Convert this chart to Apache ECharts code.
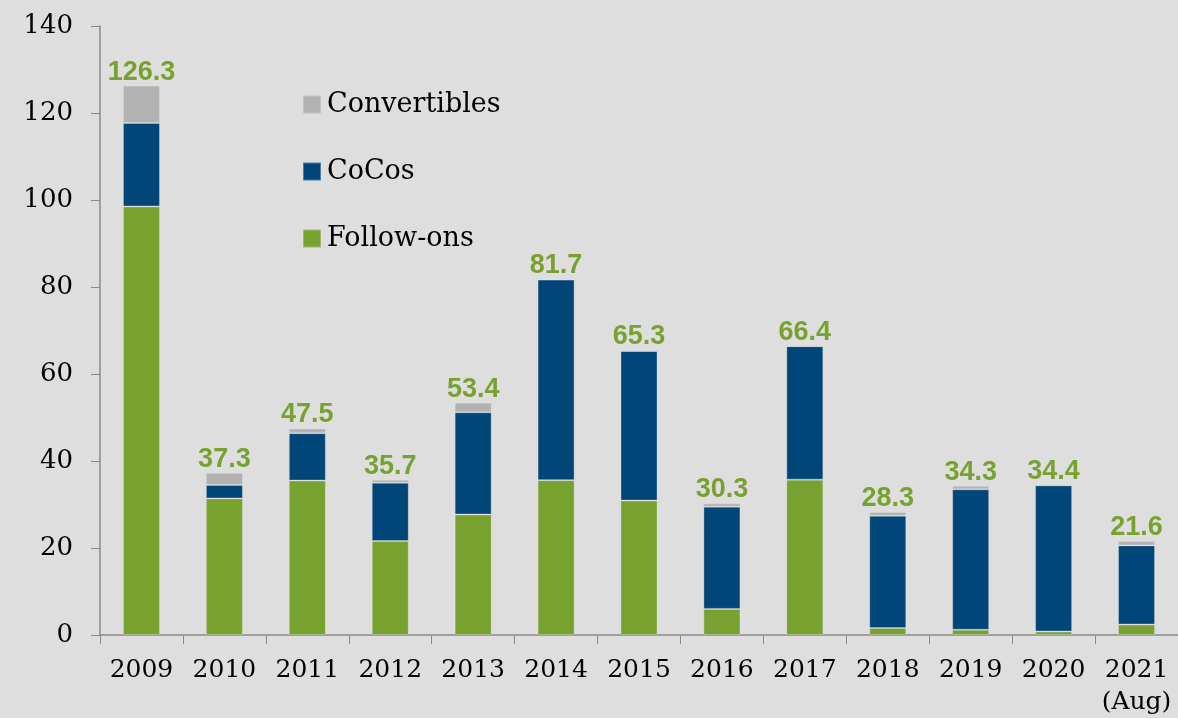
<!DOCTYPE html>
<html>
<head>
<meta charset="utf-8">
<script src="https://cdn.jsdelivr.net/npm/echarts@6/dist/echarts.min.js"></script>
<style>
  html, body { margin: 0; padding: 0; background: #dedede; }
  #chart { width: 1178px; height: 718px; }
</style>
</head>
<body>
<div id="chart"></div>
<script>
// Issuance volumes by year (stacked)
const years = ['2009', '2010', '2011', '2012', '2013', '2014', '2015', '2016', '2017', '2018', '2019', '2020', '2021\n(Aug)'];
const followOns    = [98.5, 31.4, 35.5, 21.6, 27.7, 35.6, 30.9, 6.0, 35.7, 1.6, 1.2, 0.8, 2.4];
const cocos        = [19.2, 3.1, 10.9, 13.4, 23.5, 46.1, 34.4, 23.5, 30.7, 25.8, 32.3, 33.6, 18.2];
const convertibles = [8.6, 2.8, 1.1, 0.7, 2.2, 0, 0, 0.8, 0, 0.9, 0.8, 0, 1.0];
const yTicks = [0, 20, 40, 60, 80, 100, 120, 140];

const totals = years.map((_, i) => followOns[i] + cocos[i] + convertibles[i]);

const serif = '"DejaVu Serif", "Liberation Serif", serif';
const edge = { borderColor: 'rgba(225,225,225,0.35)', borderWidth: 1 };

const chart = echarts.init(document.getElementById('chart'));
chart.setOption({
  backgroundColor: '#dedede',
  animation: false,
  grid: { left: 100, top: 26, width: 1085, height: 610 },
  legend: {
    orient: 'vertical',
    left: 297,
    top: 86,
    itemGap: 40,
    itemWidth: 18,
    itemHeight: 18,
    icon: 'rect',
    textStyle: { fontFamily: serif, fontSize: 27, color: '#000', padding: [0, 0, 0, 1] },
    data: ['Convertibles', 'CoCos', 'Follow-ons']
  },
  xAxis: {
    type: 'category',
    data: years,
    axisLine: { lineStyle: { color: '#8a8a8a', width: 1.5 } },
    axisTick: { show: true, length: 9, interval: 0, lineStyle: { color: '#8a8a8a' } },
    axisLabel: { fontFamily: serif, fontSize: 25, color: '#000', margin: 19, lineHeight: 32, interval: 0 }
  },
  yAxis: {
    type: 'value',
    min: yTicks[0],
    max: yTicks[yTicks.length - 1],
    interval: yTicks[1] - yTicks[0],
    splitLine: { show: false },
    axisLine: { show: true, lineStyle: { color: '#8a8a8a', width: 1.5 } },
    axisTick: { show: true, length: 9, lineStyle: { color: '#8a8a8a' } },
    axisLabel: { fontFamily: serif, fontSize: 26, color: '#000', margin: 27 }
  },
  series: [
    {
      name: 'Follow-ons', type: 'bar', stack: 'total', barWidth: 37,
      itemStyle: Object.assign({ color: '#78a22f' }, edge),
      data: followOns
    },
    {
      name: 'CoCos', type: 'bar', stack: 'total', barWidth: 37,
      itemStyle: Object.assign({ color: '#004678' }, edge),
      data: cocos
    },
    {
      name: 'Convertibles', type: 'bar', stack: 'total', barWidth: 37,
      itemStyle: Object.assign({ color: '#b2b2b2' }, edge),
      data: convertibles,
      label: {
        show: true,
        position: 'top',
        distance: 0,
        fontFamily: '"Liberation Sans", Arial, sans-serif',
        fontWeight: 'bold',
        fontSize: 27,
        color: '#78a22f',
        formatter: p => totals[p.dataIndex].toFixed(1)
      }
    }
  ]
});
</script>
</body>
</html>
